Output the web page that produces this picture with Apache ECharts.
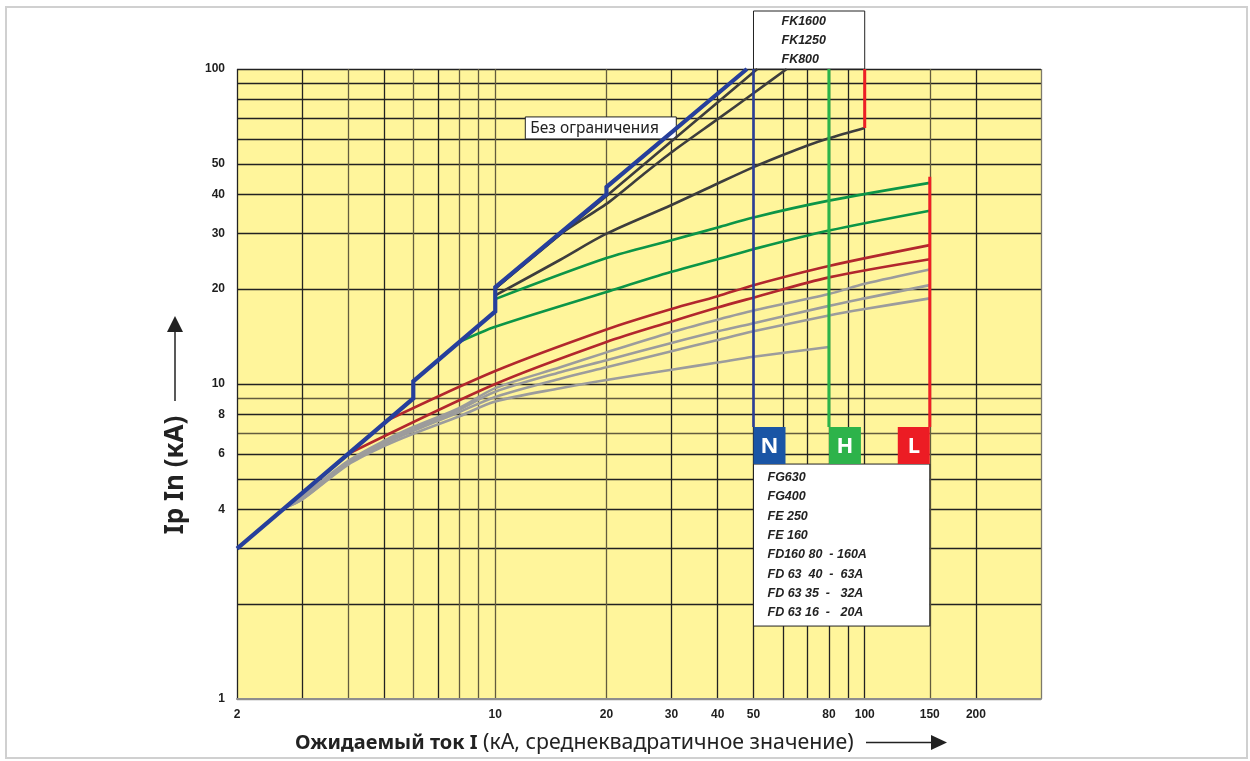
<!DOCTYPE html>
<html>
<head>
<meta charset="utf-8">
<script src="https://cdn.jsdelivr.net/npm/echarts@6/dist/echarts.min.js"></script>
<style>
  html, body { margin: 0; padding: 0; background: #ffffff; }
  #chart { width: 1250px; height: 761px; }
</style>
</head>
<body>
<div id="chart"></div>
<script>
// Log grid values (kA) and the ones that carry a label
const xGrid = [2, 3, 4, 5, 6, 7, 8, 9, 10, 20, 30, 40, 50, 60, 70, 80, 90, 100, 150, 200, 300];
const xTickLabels = [2, 10, 20, 30, 40, 50, 80, 100, 150, 200];
const yGrid = [1, 2, 3, 4, 5, 6, 7, 8, 9, 10, 20, 30, 40, 50, 60, 70, 80, 90, 100];
const yTickLabels = [1, 4, 6, 8, 10, 20, 30, 40, 50, 100];

// Peak current without limitation: [prospective kA, peak kA]
const unlimited = [[2, 3], [6, 9], [6, 10.2], [10, 17], [10, 20.3], [20, 40], [20, 42.2], [48, 100]];

// FK frames
const fk1600 = [[10, 20.1], [20, 39.5], [51.2, 100]];
const fk1250 = [[10, 20.1], [15, 29.9], [20, 37.3], [25, 46], [30, 54.4], [40, 69.3], [50, 83.8], [61.5, 100]];
const fk800 = [[10, 19.1], [15, 24.8], [20, 30], [30, 37], [40, 43.3], [50, 48.8], [60, 53.3], [70, 57.2], [80, 60.3], [100, 65]];

// FG frames
const fg630 = [[10, 18.6], [20, 25.1], [30, 28.6], [40, 31.4], [50, 33.8], [80, 38.2], [150, 43.5]];
const fg400 = [[8, 13.6], [10, 15.2], [20, 19.6], [30, 22.7], [40, 24.9], [50, 26.8], [80, 30.7], [150, 35.5]];

// FE frames
const fe250 = [[5.14, 7.7], [10, 11.0], [20, 14.9], [30, 17.3], [40, 19.0], [50, 20.6], [80, 23.7], [150, 27.6]];
const fe160 = [[4, 6], [10, 10.0], [20, 13.6], [30, 15.8], [40, 17.5], [50, 18.8], [80, 21.8], [150, 24.9]];

// FD frames
const fd160 = [[2.7, 4.05], [3, 4.4], [4, 5.7], [5, 6.6], [6, 7.3], [8, 8.4], [10, 9.7], [15, 11.3], [20, 12.6], [30, 14.6], [40, 16.0], [50, 17.1], [80, 19.3], [100, 20.8], [150, 23.1]];
const fd63_40 = [[2.7, 4.05], [3, 4.35], [4, 5.65], [5, 6.5], [6, 7.2], [8, 8.3], [10, 9.45], [15, 10.9], [20, 11.9], [30, 13.5], [40, 14.7], [50, 15.6], [80, 17.7], [100, 18.7], [150, 20.6]];
const fd63_35 = [[2.7, 4.05], [3, 4.3], [4, 5.6], [5, 6.45], [6, 7.1], [8, 8.15], [10, 9.1], [15, 10.4], [20, 11.3], [30, 12.7], [40, 13.8], [50, 14.7], [80, 16.5], [100, 17.3], [150, 18.7]];
const fd63_16 = [[2.7, 4.05], [3, 4.3], [4, 5.55], [5, 6.35], [6, 6.95], [8, 7.9], [10, 8.8], [15, 9.7], [20, 10.3], [30, 11.1], [40, 11.7], [50, 12.2], [80, 13.1]];

// Breaking-capacity limits N / H / L and the FK800 limit
const limitN = [[50, 100], [50, 7.3]];
const limitH = [[80, 100], [80, 7.3]];
const limitL = [[150, 45.5], [150, 7.3]];
const limitFK800 = [[100, 100], [100, 65]];

const fkNames = ['FK1600', 'FK1250', 'FK800'];
const frameNames = ['FG630', 'FG400', 'FE 250', 'FE 160', 'FD160 80  - 160A', 'FD 63  40  -  63A', 'FD 63 35  -   32A', 'FD 63 16  -   20A'];

const INK = '#222222';
const OLIVE = '#635c3e';
const xOliveLines = new Set([4, 6, 8, 9, 10, 20, 150]);
const yOliveLines = new Set([7, 9]);

function curve(name, data, color, width, smooth) {
  return {
    name: name, type: 'line', data: data, symbol: 'none', smooth: smooth || 0,
    lineStyle: { color: color, width: width, cap: 'butt', join: 'miter' },
    emphasis: { disabled: true }, silent: true, clip: true
  };
}

const tickLabel = {
  fontFamily: 'Liberation Sans', fontWeight: 'bold', fontSize: 12, color: '#1e1e1e',
  formatter: v => String(Math.round(v))
};

const option = {
  animation: false,
  backgroundColor: '#ffffff',
  grid: { left: 237, top: 69, width: 804, height: 630, show: true, backgroundColor: '#fff59b', borderWidth: 0 },
  xAxis: {
    type: 'log', logBase: 10, min: 2, max: 300,
    axisLine: { show: true, lineStyle: { color: '#8e8e8e', width: 2 } },
    axisTick: { show: false, customValues: xGrid },
    axisLabel: Object.assign({ customValues: xTickLabels, margin: 10 }, tickLabel),
    splitLine: { show: true, lineStyle: { width: 1.3, color: xGrid.map(v => v === 300 ? '#7d7a6a' : (xOliveLines.has(v) ? OLIVE : INK)) } }
  },
  yAxis: {
    type: 'log', logBase: 10, min: 1, max: 100,
    axisLine: { show: false },
    axisTick: { show: false, customValues: yGrid },
    axisLabel: Object.assign({ customValues: yTickLabels, margin: 12 }, tickLabel),
    splitLine: { show: true, lineStyle: { width: 1.3, color: yGrid.map(v => v === 1 ? '#8e8e8e' : (yOliveLines.has(v) ? OLIVE : INK)) } }
  },
  series: [
    curve('FD 63 16-20A', fd63_16, '#9c9c9c', 2.6, 0.3),
    curve('FD 63 35-32A', fd63_35, '#9c9c9c', 2.6, 0.3),
    curve('FD 63 40-63A', fd63_40, '#9c9c9c', 2.6, 0.3),
    curve('FD160', fd160, '#9c9c9c', 2.6, 0.3),
    curve('FE 160', fe160, '#b2272d', 2.6, 0.3),
    curve('FE 250', fe250, '#b2272d', 2.6, 0.3),
    curve('FG400', fg400, '#0c9547', 2.6, 0.3),
    curve('FG630', fg630, '#0c9547', 2.6, 0.3),
    curve('FK800', fk800, '#3d3d3d', 2.6, 0.3),
    curve('FK1250', fk1250, '#3d3d3d', 2.6, 0.2),
    curve('FK1600', fk1600, '#3d3d3d', 2.6, 0),
    curve('Без ограничения', unlimited, '#263f9c', 4.2, 0),
    curve('N', limitN, '#2b3f97', 2.6, 0),
    curve('H', limitH, '#2cb34a', 3, 0),
    curve('L', limitL, '#ee1f26', 3, 0),
    curve('FK800 limit', limitFK800, '#ee1f26', 3, 0)
  ]
};

const chart = echarts.init(document.getElementById('chart'), null, { renderer: 'canvas' });
chart.setOption(option);

// Annotations anchored on data coordinates
const px = (x, y) => chart.convertToPixel({ gridIndex: 0 }, [x, y]);
const plotTop = px(2, 100)[1];
const italicText = { fontFamily: 'Liberation Sans', fontStyle: 'italic', fontWeight: 'bold', fontSize: 12.5, fill: '#222' };

function badge(anchorX, side, letter, color) {
  const p = px(anchorX, 7.3);
  const w = 32, h = 37;
  const left = side === 'right' ? p[0] - w : p[0];
  return {
    type: 'group', x: left, y: p[1],
    children: [
      { type: 'rect', shape: { x: 0, y: 0, width: w, height: h }, style: { fill: color } },
      { type: 'text', x: w / 2, y: h / 2 + 1, style: { text: letter, fill: '#fff', fontFamily: 'Noto Sans', fontWeight: 'bold', fontSize: 22, align: 'center', verticalAlign: 'middle' } }
    ]
  };
}

const fkLeft = px(50, 100)[0], fkRight = px(100, 100)[0];
const fkBox = {
  type: 'group', x: fkLeft, y: plotTop - 58,
  children: [{ type: 'rect', shape: { x: 0, y: 0, width: fkRight - fkLeft, height: 58 }, style: { fill: '#fff', stroke: '#222', lineWidth: 1 } }]
    .concat(fkNames.map((t, i) => ({ type: 'text', x: 28, y: 11 + i * 19, style: Object.assign({ text: t, verticalAlign: 'middle' }, italicText) })))
};

const lgTop = px(50, 7.3)[1] + 37;
const lgLeft = px(50, 5)[0], lgRight = px(150, 5)[0];
const frameBox = {
  type: 'group', x: lgLeft, y: lgTop,
  children: [{ type: 'rect', shape: { x: 0, y: 0, width: lgRight - lgLeft, height: 162 }, style: { fill: '#fff', stroke: '#222', lineWidth: 1 } }]
    .concat(frameNames.map((t, i) => ({ type: 'text', x: 14, y: 13.5 + i * 19.35, style: Object.assign({ text: t, verticalAlign: 'middle' }, italicText) })))
};

const unl = px(12.06, 65);
const unlimitedBox = {
  type: 'group', x: unl[0], y: unl[1] - 11,
  children: [
    { type: 'rect', shape: { x: 0, y: 0, width: 151, height: 22 }, style: { fill: '#fff', stroke: '#222', lineWidth: 1 } },
    { type: 'text', x: 5, y: 11.5, style: { text: 'Без ограничения', fill: '#222', fontFamily: 'Noto Sans', fontSize: 15.5, verticalAlign: 'middle' } }
  ]
};

chart.setOption({
  graphic: [
    { type: 'rect', shape: { x: 6, y: 7, width: 1241, height: 751 }, style: { fill: null, stroke: '#d0d0d0', lineWidth: 2 }, silent: true },
    fkBox, frameBox, unlimitedBox,
    badge(50, 'left', 'N', '#1a55a5'),
    badge(80, 'left', 'H', '#2db34a'),
    badge(150, 'right', 'L', '#ec1c24'),
    // Y axis title and arrow
    { type: 'text', x: 176, y: 475, rotation: Math.PI / 2, style: { text: 'Ip In (кА)', fill: '#222', fontFamily: 'Noto Sans', fontWeight: 'bold', fontSize: 26, align: 'center', verticalAlign: 'middle' } },
    { type: 'line', shape: { x1: 175, y1: 401, x2: 175, y2: 330 }, style: { stroke: '#222', lineWidth: 1.5 } },
    { type: 'polygon', shape: { points: [[167, 332], [183, 332], [175, 316]] }, style: { fill: '#222' } },
    // X axis title and arrow
    { type: 'text', x: 295, y: 743, style: { text: '{b|Ожидаемый ток I} (кА, среднеквадратичное значение)', fill: '#222', fontFamily: 'Noto Sans', fontSize: 21.3, verticalAlign: 'middle', rich: { b: { fontWeight: 'bold', fontFamily: 'Noto Sans', fontSize: 20, fill: '#222' } } } },
    { type: 'line', shape: { x1: 866, y1: 742.5, x2: 935, y2: 742.5 }, style: { stroke: '#222', lineWidth: 1.5 } },
    { type: 'polygon', shape: { points: [[931, 735], [931, 750], [947, 742.5]] }, style: { fill: '#222' } }
  ]
});
</script>
</body>
</html>
